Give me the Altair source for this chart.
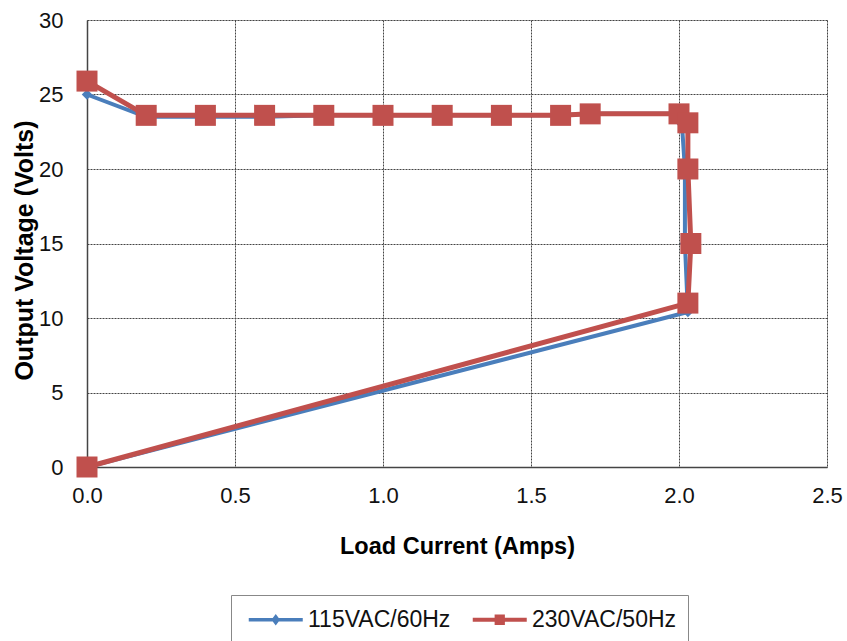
import altair as alt
import pandas as pd

# ---- data ----
series_names = ["115VAC/60Hz", "230VAC/50Hz"]
cur_115 = [0.0, 0.2, 0.4, 0.6, 0.8, 1.0, 1.2, 1.4, 1.6, 1.7, 2.0, 2.01, 2.02, 2.02, 2.03, 0.0]
volt_115 = [25.0, 23.5, 23.5, 23.5, 23.6, 23.6, 23.6, 23.6, 23.6, 23.7, 23.7, 23.0, 20.0, 15.0, 10.4, 0.0]
cur_230 = [0.0, 0.2, 0.4, 0.6, 0.8, 1.0, 1.2, 1.4, 1.6, 1.7, 2.0, 2.03, 2.03, 2.04, 2.03, 0.0]
volt_230 = [25.9, 23.6, 23.6, 23.6, 23.6, 23.6, 23.6, 23.6, 23.6, 23.7, 23.7, 23.1, 20.0, 15.0, 11.0, 0.0]
x_ticks = [0.0, 0.5, 1.0, 1.5, 2.0, 2.5]
y_ticks = [0, 5, 10, 15, 20, 25, 30]

rows = []
for name, xs, ys in [(series_names[0], cur_115, volt_115), (series_names[1], cur_230, volt_230)]:
    for i, (a, b) in enumerate(zip(xs, ys)):
        rows.append({"series": name, "current": a, "voltage": b, "seq": i})
df = pd.DataFrame(rows)

BLUE = "#4A7EBB"
RED = "#C0504D"

# legend symbols: a thick line with the series marker in its middle
blue_sym = "M-0.5,-0.13H3.5V0.13H-0.5Z M1.5,-0.42L1.82,0L1.5,0.42L1.18,0Z"
red_sym = "M-0.5,-0.15H3.5V0.15H-0.5Z M1.12,-0.38H1.88V0.38H1.12Z"

legend = alt.Legend(
    title=None,
    orient="none",
    legendX=144,
    legendY=575,
    direction="horizontal",
    columns=2,
    columnPadding=15,
    padding=11,
    strokeColor="#888888",
    symbolSize=729,
    symbolStrokeWidth=0,
    symbolOpacity=1,
    labelOffset=39,
    labelFontSize=23,
    labelFont="Liberation Sans",
    labelColor="#111111",
)

x_enc = alt.X(
    "current:Q",
    scale=alt.Scale(domain=[0, 2.5], nice=False, zero=False),
    axis=alt.Axis(
        title="Load Current (Amps)",
        values=x_ticks,
        format=".1f",
        labelFontSize=22,
        labelPadding=18,
        labelFlush=False,
        tickSize=0,
        titleFontSize=23.5,
        titleFontWeight="bold",
        titleY=67,
        grid=True,
        gridDash=[2, 1],
        gridColor="#444444",
        gridWidth=1,
        domainColor="#444444",
        domainWidth=1.5,
        labelColor="#111111",
        titleColor="#000000",
    ),
)
y_enc = alt.Y(
    "voltage:Q",
    scale=alt.Scale(domain=[0, 30], nice=False),
    axis=alt.Axis(
        title="Output Voltage (Volts)",
        values=y_ticks,
        labelFontSize=22,
        labelPadding=24,
        labelFlush=False,
        tickSize=0,
        titleFontSize=25,
        titleFontWeight="bold",
        titlePadding=1,
        titleY=230,
        grid=True,
        gridDash=[2, 1],
        gridColor="#444444",
        gridWidth=1,
        domainColor="#444444",
        domainWidth=1.5,
        labelColor="#111111",
        titleColor="#000000",
    ),
)

base = alt.Chart(df)

blue_line = base.transform_filter(alt.datum.series == series_names[0]).mark_line(
    strokeWidth=4, strokeJoin="round", color=BLUE
).encode(x=x_enc, y=y_enc, order="seq:Q")
blue_pts = base.transform_filter(alt.datum.series == series_names[0]).mark_point(
    shape="diamond", filled=True, size=110, opacity=1, color=BLUE
).encode(x=x_enc, y=y_enc)
red_line = base.transform_filter(alt.datum.series == series_names[1]).mark_line(
    strokeWidth=5, strokeJoin="round", color=RED
).encode(x=x_enc, y=y_enc, order="seq:Q")
red_pts = base.transform_filter(alt.datum.series == series_names[1]).mark_point(
    shape="square", filled=True, size=441, opacity=1, color=RED
).encode(x=x_enc, y=y_enc)

# invisible layer that only carries the legend
legend_layer = base.mark_point(filled=True, opacity=0, size=1).encode(
    x=x_enc,
    y=y_enc,
    color=alt.Color("series:N", scale=alt.Scale(domain=series_names, range=[BLUE, RED]), legend=legend),
    shape=alt.Shape("series:N", scale=alt.Scale(domain=series_names, range=[blue_sym, red_sym]), legend=legend),
)

chart = alt.layer(blue_line, blue_pts, red_line, red_pts, legend_layer).properties(
    width=740,
    height=447,
    autosize=alt.AutoSizeParams(type="none"),
    padding={"left": 87, "top": 20, "right": 20, "bottom": 174},
    background="white",
).configure_view(
    stroke="#555555", strokeWidth=1.5
).configure(
    font="Liberation Sans"
)

chart.save("out.html", embed_options={"renderer": "svg", "actions": False})
